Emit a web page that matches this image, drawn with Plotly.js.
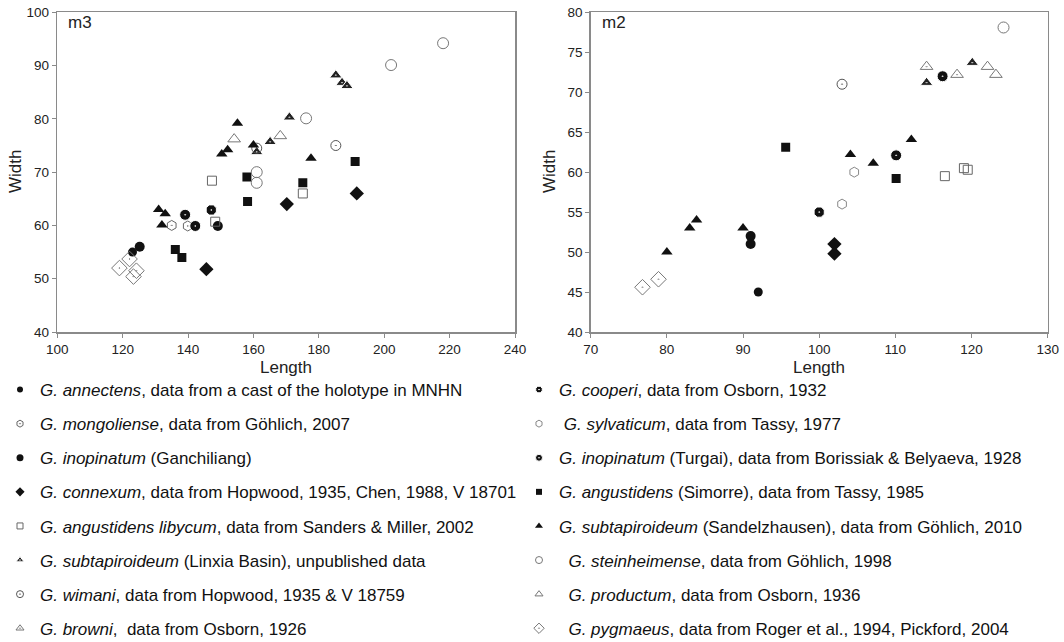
<!DOCTYPE html>
<html>
<head>
<meta charset="utf-8">
<script src="https://cdn.plot.ly/plotly-3.0.1.min.js"></script>
<style>html,body{margin:0;padding:0;background:#fff;}#chart{width:1064px;height:642px;}</style>
</head>
<body>
<div id="chart"></div>
<script>
// ---- Data: m3 (left panel) Length / Width ----
const annectens_m3_L = [123.0];
const annectens_m3_W = [55.0];
const mongoliense_m3_L = [135.0, 139.9];
const mongoliense_m3_W = [60.0, 59.9];
const ganchiliang_m3_L = [125.2, 149.1];
const ganchiliang_m3_W = [56.0, 59.9];
const connexum_m3_L = [191.6, 170.2, 145.6];
const connexum_m3_W = [66.0, 64.0, 51.8];
const libycum_m3_L = [175.1, 147.3, 148.3];
const libycum_m3_W = [66.0, 68.4, 60.7];
const linxia_m3_L = [185.2, 187.1, 188.6, 171.0, 165.1, 161.0];
const linxia_m3_W = [88.2, 86.8, 86.2, 80.3, 75.7, 73.8];
const wimani_m3_L = [185.2, 161.0];
const wimani_m3_W = [75.0, 74.5];
const cooperi_m3_L = [147.1];
const cooperi_m3_W = [62.9];
const turgai_m3_L = [139.1, 142.2];
const turgai_m3_W = [62.0, 59.9];
const simorre_m3_L = [191.1, 158.0, 175.1, 158.2, 136.1, 138.1];
const simorre_m3_W = [72.0, 69.1, 68.0, 64.5, 55.5, 54.0];
const sandel_m3_L = [155.1, 152.1, 150.3, 160.0, 177.6, 131.0, 133.0, 132.0];
const sandel_m3_W = [79.2, 74.2, 73.4, 75.1, 72.6, 63.0, 62.2, 60.1];
const stein_m3_L = [218.0, 202.1, 176.1, 161.0, 161.0];
const stein_m3_W = [94.2, 90.1, 80.1, 70.0, 68.0];
const productum_m3_L = [168.2, 154.1];
const productum_m3_W = [76.8, 76.2];
const pygmaeus_m3_L = [122.1, 119.0, 124.2, 123.3];
const pygmaeus_m3_W = [53.7, 52.0, 51.5, 50.4];

// ---- Data: m2 (right panel) Length / Width ----
const annectens_m2_L = [92.0];
const annectens_m2_W = [45.0];
const ganchiliang_m2_L = [91.0, 91.0];
const ganchiliang_m2_W = [52.0, 51.0];
const connexum_m2_L = [102.0, 102.0];
const connexum_m2_W = [51.0, 49.8];
const libycum_m2_L = [116.5, 119.0, 119.5];
const libycum_m2_W = [59.5, 60.5, 60.3];
const linxia_m2_L = [114.1, 120.1];
const linxia_m2_W = [71.2, 73.7];
const wimani_m2_L = [103.0];
const wimani_m2_W = [71.0];
const browni_m2_L = [114.1, 118.1];
const browni_m2_W = [73.2, 72.2];
const cooperi_m2_L = [100.0];
const cooperi_m2_W = [55.0];
const sylvaticum_m2_L = [103.0, 104.6];
const sylvaticum_m2_W = [56.0, 60.0];
const turgai_m2_L = [110.1, 116.2];
const turgai_m2_W = [62.1, 72.0];
const simorre_m2_L = [95.6, 110.1];
const simorre_m2_W = [63.1, 59.2];
const sandel_m2_L = [80.0, 83.0, 83.9, 90.0, 104.1, 107.1, 112.1];
const sandel_m2_W = [50.0, 53.0, 54.0, 53.0, 62.2, 61.1, 64.1];
const stein_m2_L = [124.2];
const stein_m2_W = [78.1];
const productum_m2_L = [122.1, 123.2];
const productum_m2_W = [73.2, 72.2];
const pygmaeus_m2_L = [76.8, 78.9];
const pygmaeus_m2_W = [45.6, 46.6];

// ---- Text ----
const panelLabels = ['m3', 'm2'];
const xTitle = 'Length';
const yTitle = 'Width';
const leftLabels = [
  '<i>G. annectens</i>, data from a cast of the holotype in MNHN',
  '<i>G. mongoliense</i>, data from Göhlich, 2007',
  '<i>G. inopinatum</i> (Ganchiliang)',
  '<i>G. connexum</i>, data from Hopwood, 1935, Chen, 1988, V 18701',
  '<i>G. angustidens libycum</i>, data from Sanders &amp; Miller, 2002',
  '<i>G. subtapiroideum</i> (Linxia Basin), unpublished data',
  '<i>G. wimani</i>, data from Hopwood, 1935 &amp; V 18759',
  '<i>G. browni</i>,  data from Osborn, 1926'
];
const rightLabels = [
  '<i>G. cooperi</i>, data from Osborn, 1932',
  ' <i>G. sylvaticum</i>, data from Tassy, 1977',
  '<i>G. inopinatum</i> (Turgai), data from Borissiak &amp; Belyaeva, 1928',
  '<i>G. angustidens</i> (Simorre), data from Tassy, 1985',
  '<i>G. subtapiroideum</i> (Sandelzhausen), data from Göhlich, 2010',
  '  <i>G. steinheimense</i>, data from Göhlich, 1998',
  '  <i>G. productum</i>, data from Osborn, 1936',
  '  <i>G. pygmaeus</i>, data from Roger et al., 1994, Pickford, 2004'
];

// ---- Styles ----
const S = {
  annectens:  {symbol:'circle', color:'#111', size:9, line:{width:0}},
  mongoliense:{symbol:'hexagon-open-dot', color:'#666', size:10, line:{width:1}},
  ganchiliang:{symbol:'circle', color:'#111', size:10, line:{width:0}},
  connexum:   {symbol:'diamond', color:'#111', size:11, line:{width:0}},
  libycum:    {symbol:'square-open', color:'#666', size:9, line:{width:1}},
  linxia:     {symbol:'triangle-up-dot', color:'#222', size:11, line:{width:1, color:'#fff'}},
  wimani:     {symbol:'circle-open-dot', color:'#555', size:10, line:{width:1}},
  browni:     {symbol:'triangle-up-open-dot', color:'#777', size:11, line:{width:1}},
  cooperi:    {symbol:'octagon-dot', color:'#111', size:11, line:{width:1, color:'#fff'}},
  sylvaticum: {symbol:'hexagon-open', color:'#888', size:10, line:{width:1}},
  turgai:     {symbol:'circle-dot', color:'#111', size:11, line:{width:1, color:'#fff'}},
  simorre:    {symbol:'square', color:'#111', size:9, line:{width:0}},
  sandel:     {symbol:'triangle-up', color:'#111', size:10, line:{width:0}},
  stein:      {symbol:'circle-open', color:'#777', size:11, line:{width:1}},
  productum:  {symbol:'triangle-up-open', color:'#777', size:11, line:{width:1}},
  pygmaeus:   {symbol:'diamond-open-dot', color:'#777', size:12, line:{width:1}}
};

function mk(style){
  return {symbol: style.symbol, color: style.color, size: style.size, line: Object.assign({color: style.color}, style.line)};
}
function pts(x, y, key, xa, ya){
  return {type:'scatter', mode:'markers', x:x, y:y, xaxis:xa, yaxis:ya, marker:mk(S[key]), showlegend:false, hoverinfo:'x+y'};
}
function leg(key, label, legendId, gi){
  const m = mk(S[key]);
  m.size = Math.max(6, Math.round(S[key].size*0.65));
  return {type:'scatter', mode:'markers', x:[null], y:[null], xaxis:'x', yaxis:'y', marker:m, name:label, legend:legendId, legendgroup:legendId+'_'+gi, showlegend:true};
}

const traces = [
  pts(annectens_m3_L, annectens_m3_W, 'annectens','x','y'),
  pts(mongoliense_m3_L, mongoliense_m3_W, 'mongoliense','x','y'),
  pts(ganchiliang_m3_L, ganchiliang_m3_W, 'ganchiliang','x','y'),
  pts(connexum_m3_L, connexum_m3_W, 'connexum','x','y'),
  pts(libycum_m3_L, libycum_m3_W, 'libycum','x','y'),
  pts(linxia_m3_L, linxia_m3_W, 'linxia','x','y'),
  pts(wimani_m3_L, wimani_m3_W, 'wimani','x','y'),
  pts(cooperi_m3_L, cooperi_m3_W, 'cooperi','x','y'),
  pts(turgai_m3_L, turgai_m3_W, 'turgai','x','y'),
  pts(simorre_m3_L, simorre_m3_W, 'simorre','x','y'),
  pts(sandel_m3_L, sandel_m3_W, 'sandel','x','y'),
  pts(stein_m3_L, stein_m3_W, 'stein','x','y'),
  pts(productum_m3_L, productum_m3_W, 'productum','x','y'),
  pts(pygmaeus_m3_L, pygmaeus_m3_W, 'pygmaeus','x','y'),

  pts(annectens_m2_L, annectens_m2_W, 'annectens','x2','y2'),
  pts(ganchiliang_m2_L, ganchiliang_m2_W, 'ganchiliang','x2','y2'),
  pts(connexum_m2_L, connexum_m2_W, 'connexum','x2','y2'),
  pts(libycum_m2_L, libycum_m2_W, 'libycum','x2','y2'),
  pts(linxia_m2_L, linxia_m2_W, 'linxia','x2','y2'),
  pts(wimani_m2_L, wimani_m2_W, 'wimani','x2','y2'),
  pts(browni_m2_L, browni_m2_W, 'browni','x2','y2'),
  pts(cooperi_m2_L, cooperi_m2_W, 'cooperi','x2','y2'),
  pts(sylvaticum_m2_L, sylvaticum_m2_W, 'sylvaticum','x2','y2'),
  pts(turgai_m2_L, turgai_m2_W, 'turgai','x2','y2'),
  pts(simorre_m2_L, simorre_m2_W, 'simorre','x2','y2'),
  pts(sandel_m2_L, sandel_m2_W, 'sandel','x2','y2'),
  pts(stein_m2_L, stein_m2_W, 'stein','x2','y2'),
  pts(productum_m2_L, productum_m2_W, 'productum','x2','y2'),
  pts(pygmaeus_m2_L, pygmaeus_m2_W, 'pygmaeus','x2','y2')
];

const leftKeys = ['annectens','mongoliense','ganchiliang','connexum','libycum','linxia','wimani','browni'];
const rightKeys = ['cooperi','sylvaticum','turgai','simorre','sandel','stein','productum','pygmaeus'];
leftKeys.forEach((k,i)=>traces.push(leg(k, leftLabels[i], 'legend', i)));
rightKeys.forEach((k,i)=>traces.push(leg(k, rightLabels[i], 'legend2', i)));

const W = 1064, H = 642;
const FF = 'Liberation Sans, Arial, sans-serif';
const axCommon = {
  showgrid:false, zeroline:false, showline:true, linecolor:'#8a8a8a', linewidth:1.5,
  mirror:true, ticks:'outside', ticklen:4, tickcolor:'#8a8a8a', tickwidth:1,
  tickfont:{family:FF, size:13.5, color:'#222'},
  automargin:false, fixedrange:true
};
const titleFont = {family:FF, size:17, color:'#222'};
const yDom = [1-332/H, 1-12.3/H];

const layout = {
  width:W, height:H,
  margin:{l:0, r:0, t:0, b:0, autoexpand:false},
  paper_bgcolor:'#fff', plot_bgcolor:'#fff',
  xaxis: Object.assign({}, axCommon, {domain:[57.3/W, 515/W], range:[100,240], dtick:20, tick0:100, anchor:'y'}),
  yaxis: Object.assign({}, axCommon, {domain:yDom, range:[40,100], dtick:10, tick0:40, anchor:'x'}),
  xaxis2: Object.assign({}, axCommon, {domain:[590.7/W, 1047.7/W], range:[70,130], dtick:10, tick0:70, anchor:'y2'}),
  yaxis2: Object.assign({}, axCommon, {domain:yDom, range:[40,80], dtick:5, tick0:40, anchor:'x2'}),
  annotations:[
    {text:panelLabels[0], xref:'paper', yref:'paper', x:66/W, y:1-23/H, xanchor:'left', yanchor:'middle', showarrow:false,
      font:{family:FF, size:17, color:'#222'}},
    {text:panelLabels[1], xref:'paper', yref:'paper', x:600/W, y:1-23/H, xanchor:'left', yanchor:'middle', showarrow:false,
      font:{family:FF, size:17, color:'#222'}},
    {text:yTitle, xref:'paper', yref:'paper', x:15/W, y:1-172/H, xanchor:'center', yanchor:'middle', textangle:-90, showarrow:false,
      font:titleFont},
    {text:yTitle, xref:'paper', yref:'paper', x:549/W, y:1-172/H, xanchor:'center', yanchor:'middle', textangle:-90, showarrow:false,
      font:titleFont},
    {text:xTitle, xref:'paper', yref:'paper', x:286/W, y:1-368/H, xanchor:'center', yanchor:'middle', showarrow:false,
      font:titleFont},
    {text:xTitle, xref:'paper', yref:'paper', x:819/W, y:1-368/H, xanchor:'center', yanchor:'middle', showarrow:false,
      font:titleFont}
  ],
  legend:{xref:'container', yref:'container', x:0, y:1-372/H, xanchor:'left', yanchor:'top',
    traceorder:'grouped', tracegroupgap:9, bgcolor:'rgba(0,0,0,0)', borderwidth:0, itemsizing:'trace',
    font:{family:FF, size:17, color:'#111'}},
  legend2:{xref:'container', yref:'container', x:519/W, y:1-372/H, xanchor:'left', yanchor:'top',
    traceorder:'grouped', tracegroupgap:9, bgcolor:'rgba(0,0,0,0)', borderwidth:0, itemsizing:'trace',
    font:{family:FF, size:17, color:'#111'}},
  showlegend:true
};

Plotly.newPlot('chart', traces, layout, {displayModeBar:false, staticPlot:true});
</script>
</body>
</html>
